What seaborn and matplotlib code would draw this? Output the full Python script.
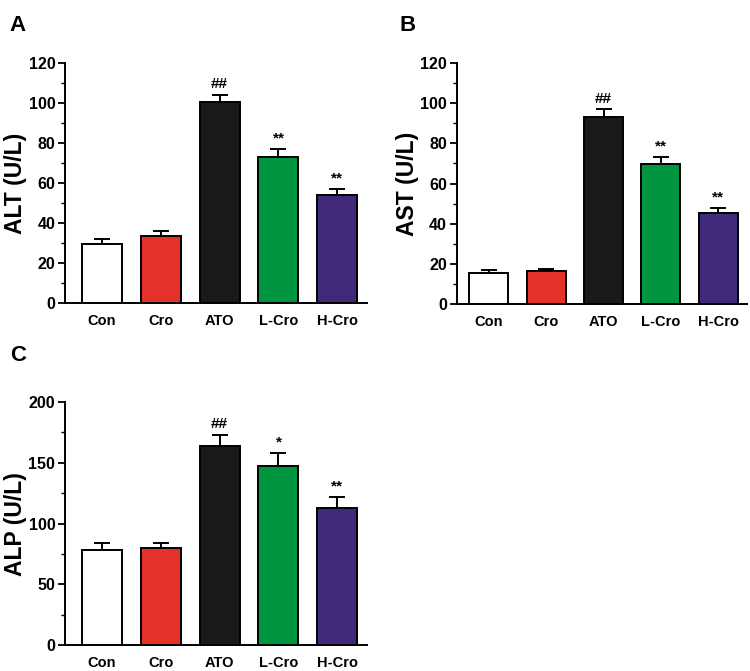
import pandas as pd
import matplotlib
matplotlib.use("Agg")
import matplotlib.pyplot as plt
from matplotlib.ticker import MultipleLocator
import seaborn as sns

# -----------------------------
# DATA
# -----------------------------

groups = ["Con", "Cro", "ATO", "L-Cro", "H-Cro"]
colors = ["#FFFFFF", "#E2322A", "#1A1A1A", "#00963F", "#40287A"]

alt_mean = [29.5, 33.8, 100.5, 73.0, 54.0]
alt_err = [2.8, 2.3, 3.6, 4.0, 3.2]
alt_marks = ["", "", "##", "**", "**"]

ast_mean = [15.6, 16.6, 93.0, 69.6, 45.4]
ast_err = [1.4, 1.0, 4.0, 3.4, 2.2]
ast_marks = ["", "", "##", "**", "**"]

alp_mean = [78.5, 79.8, 163.5, 147.5, 112.5]
alp_err = [5.4, 4.3, 9.6, 10.8, 9.2]
alp_marks = ["", "", "##", "*", "**"]

sns.set_style("ticks")
plt.rcParams["font.family"] = ["Liberation Sans", "DejaVu Sans"]
plt.rcParams["font.weight"] = "bold"
plt.rcParams["text.color"] = "black"
plt.rcParams["axes.labelcolor"] = "black"
plt.rcParams["xtick.color"] = "black"
plt.rcParams["ytick.color"] = "black"
plt.rcParams["axes.edgecolor"] = "black"


def draw_panel(ax, means, errs, marks, ylabel, ymax, major, minor, xlim, label_x):
    df = pd.DataFrame({"group": groups, "value": means})
    sns.barplot(data=df, x="group", y="value", hue="group", order=groups,
                palette=colors, saturation=1, edgecolor="black", linewidth=1.4,
                width=0.68, legend=False, ax=ax)
    # upper error bars only
    ax.errorbar(range(len(groups)), means, yerr=[[0] * len(errs), errs],
                fmt="none", ecolor="black", elinewidth=1.4, capsize=6,
                capthick=1.4, zorder=1)
    for i, m in enumerate(marks):
        if m:
            ax.text(i, means[i] + errs[i] + ymax * 0.015, m, ha="center",
                    va="bottom", fontsize=11, fontweight="bold")
    ax.set_ylim(0, ymax)
    ax.set_xlim(*xlim)
    ax.yaxis.set_major_locator(MultipleLocator(major))
    ax.yaxis.set_minor_locator(MultipleLocator(minor))
    ax.set_xlabel("")
    ax.set_ylabel(ylabel, fontsize=16.5, fontweight="bold")
    ax.yaxis.set_label_coords(label_x, 0.5)
    ax.tick_params(axis="x", length=0, labelsize=10.5, pad=8)
    ax.tick_params(axis="y", which="major", length=5, width=1.3, labelsize=11.5, pad=2)
    ax.tick_params(axis="y", which="minor", length=3, width=1.0)
    for lab in ax.get_xticklabels() + ax.get_yticklabels():
        lab.set_fontweight("bold")
    for side in ["left", "bottom"]:
        ax.spines[side].set_linewidth(1.4)
    sns.despine(ax=ax)


fig = plt.figure(figsize=(7.5, 6.71), dpi=100)

axA = fig.add_axes([0.0867, 0.548, 0.403, 0.358])
draw_panel(axA, alt_mean, alt_err, alt_marks, "ALT (U/L)", 120, 20, 10,
           (-0.63, 4.51), -0.125)

axB = fig.add_axes([0.609, 0.547, 0.387, 0.359])
draw_panel(axB, ast_mean, ast_err, ast_marks, "AST (U/L)", 120, 20, 10,
           (-0.56, 4.5), -0.13)

axC = fig.add_axes([0.0867, 0.0387, 0.403, 0.362])
draw_panel(axC, alp_mean, alp_err, alp_marks, "ALP (U/L)", 200, 50, 25,
           (-0.63, 4.51), -0.125)

fig.text(0.013, 0.962, "A", fontsize=16, fontweight="bold", va="center")
fig.text(0.533, 0.962, "B", fontsize=16, fontweight="bold", va="center")
fig.text(0.013, 0.470, "C", fontsize=16, fontweight="bold", va="center")

plt.savefig("out.png", dpi=100)
